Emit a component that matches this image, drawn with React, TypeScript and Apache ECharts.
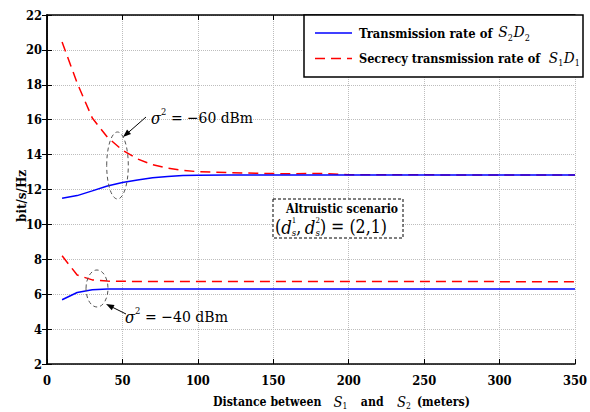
import React, { useEffect, useRef } from "react";
import * as echarts from "echarts";

const distances = [10, 20, 30, 40, 50, 60, 70, 80, 90, 100, 120, 140, 160, 180, 200, 250, 300, 350];
const rate60 = [11.5, 11.65, 11.92, 12.2, 12.4, 12.55, 12.67, 12.75, 12.8, 12.82, 12.83, 12.83, 12.83, 12.83, 12.83, 12.83, 12.83, 12.83];
const secrecy60 = [20.45, 18.1, 16.1, 15.0, 14.25, 13.75, 13.42, 13.22, 13.1, 13.02, 12.97, 12.93, 12.9, 12.92, 12.85, 12.84, 12.83, 12.83];
const rate40 = [5.68, 6.1, 6.25, 6.3, 6.3, 6.3, 6.3, 6.3, 6.3, 6.3, 6.3, 6.3, 6.3, 6.3, 6.3, 6.3, 6.3, 6.3];
const secrecy40 = [8.2, 7.1, 6.82, 6.75, 6.74, 6.73, 6.73, 6.73, 6.73, 6.73, 6.73, 6.73, 6.73, 6.73, 6.73, 6.73, 6.72, 6.72];

const FONT = "DejaVu Serif Condensed, DejaVu Serif";

type Run = { t: string; s?: number; it?: boolean; b?: boolean; dy?: number; gap?: number; noAdv?: boolean };

let ctx: CanvasRenderingContext2D | null = null;
function measure(t: string, size: number, it?: boolean, b?: boolean) {
  if (!ctx) ctx = document.createElement("canvas").getContext("2d");
  if (!ctx) return t.length * size * 0.55;
  ctx.font = `${it ? "italic " : ""}${b ? "bold " : ""}${size}px ${FONT}`;
  return ctx.measureText(t).width;
}

function textEl(t: string, x: number, y: number, size: number, it?: boolean, b?: boolean, extra: any = {}) {
  return {
    type: "text",
    x,
    y,
    z: 100,
    rotation: extra.rotation || 0,
    style: {
      text: t,
      fontFamily: FONT,
      fontSize: size,
      fontWeight: b ? "bold" : "normal",
      fontStyle: it ? "italic" : "normal",
      fill: "#000",
      align: extra.align || "left",
      verticalAlign: "middle",
    },
  };
}

// Lay out a sequence of text runs starting at x0, scaled so the whole line spans targetW.
function line(runs: Run[], x0: number, y: number, base: number, targetW: number, maxK = 1.3) {
  const widthAt = (sz: number) => {
    let w = 0;
    runs.forEach((r) => {
      const size = sz * (r.s || 1);
      w += (r.gap || 0) * sz;
      if (!r.noAdv) w += measure(r.t, size, r.it, r.b);
    });
    return w;
  };
  const k = Math.min(maxK, targetW / widthAt(base));
  const sz = base * k;
  const els: any[] = [];
  let x = x0;
  runs.forEach((r) => {
    const size = sz * (r.s || 1);
    x += (r.gap || 0) * sz;
    els.push(textEl(r.t, x, y + (r.dy || 0) * sz, size, r.it, r.b));
    if (!r.noAdv) x += measure(r.t, size, r.it, r.b);
  });
  return els;
}

function pairs(ys: number[]) {
  return distances.map((x, i) => [x, ys[i]]);
}

export default function App() {
  const ref = useRef<HTMLDivElement>(null);
  useEffect(() => {
    if (!ref.current) return;
    const chart = echarts.init(ref.current, null, { renderer: "svg" });

    const tickSize = Math.min(14, (14 * 16) / measure("22", 14, false, true));
    const axisLabel = { fontFamily: FONT, fontWeight: "bold", fontSize: tickSize, color: "#000" };
    const splitLine = { show: true, lineStyle: { color: "#bdbdbd", type: "dotted", width: 1 } };
    const axisLine = { show: true, lineStyle: { color: "#000", width: 1.5 } };
    const tick = { show: true, inside: true, length: 5, lineStyle: { color: "#000", width: 1 } };

    const blue = { color: "#0000ff", width: 1.5, type: "solid" };
    const red = { color: "#ff0000", width: 1.5, type: [10, 6] };

    const ySize = (14 * 52) / measure("bit/s/Hz", 14, false, true);

    const graphic: any[] = [
      {
        type: "rect",
        shape: { x: 304, y: 15, width: 279, height: 62 },
        style: { fill: "#fff", stroke: "#000", lineWidth: 1.5 },
        z: 90,
      },
      { type: "line", shape: { x1: 315, y1: 33, x2: 352, y2: 33 }, style: { stroke: "#0000ff", lineWidth: 1.5 }, z: 100 },
      { type: "line", shape: { x1: 315, y1: 58.5, x2: 352, y2: 58.5 }, style: { stroke: "#ff0000", lineWidth: 1.5, lineDash: [10, 6] }, z: 100 },
      ...line(
        [
          { t: "Transmission rate of", b: true },
          { t: "S", it: true, s: 1.2, gap: 0.45, dy: -0.05 },
          { t: "2", s: 0.7, dy: 0.35 },
          { t: "D", it: true, s: 1.2, gap: 0.05, dy: -0.05 },
          { t: "2", s: 0.7, dy: 0.35 },
        ],
        359, 33, 14, 171
      ),
      ...line(
        [
          { t: "Secrecy transmission rate of", b: true },
          { t: "S", it: true, s: 1.2, gap: 0.7, dy: -0.05 },
          { t: "1", s: 0.7, dy: 0.35 },
          { t: "D", it: true, s: 1.2, gap: 0.05, dy: -0.05 },
          { t: "1", s: 0.7, dy: 0.35 },
        ],
        359, 58.5, 14, 221
      ),

      {
        type: "rect",
        shape: { x: 273, y: 199, width: 130, height: 39 },
        style: { fill: "#fff", stroke: "#000", lineWidth: 1, lineDash: [3, 2] },
        z: 90,
      },
      ...line([{ t: "Altruistic scenario", b: true }], 286, 209, 14, 112),
      ...line(
        [
          { t: "(" },
          { t: "d", it: true, s: 1.05 },
          { t: "1", s: 0.45, dy: -0.38, noAdv: true },
          { t: "s", it: true, s: 0.55, dy: 0.32 },
          { t: "," },
          { t: "d", it: true, s: 1.05, gap: 0.2 },
          { t: "2", s: 0.45, dy: -0.38, noAdv: true },
          { t: "s", it: true, s: 0.55, dy: 0.32 },
          { t: ") = (2,1)" },
        ],
        275, 227, 16, 125, 1.1
      ),

      {
        type: "ellipse",
        shape: { cx: 117.5, cy: 165.5, rx: 10.8, ry: 33.5 },
        style: { fill: "none", stroke: "#555", lineWidth: 1, lineDash: [4, 3] },
        z: 95,
      },
      { type: "line", shape: { x1: 146, y1: 117, x2: 126, y2: 134.5 }, style: { stroke: "#000", lineWidth: 1 }, z: 100 },
      { type: "polygon", shape: { points: [[123, 137], [131, 134], [127.1, 129.5]] }, style: { fill: "#000" }, z: 100 },
      ...line(
        [
          { t: "σ", it: true, s: 1.05 },
          { t: "2", s: 0.6, dy: -0.4 },
          { t: "= −60 dBm", gap: 0.3 },
        ],
        151, 118, 17, 102
      ),

      {
        type: "ellipse",
        shape: { cx: 97, cy: 288.5, rx: 11, ry: 18.5 },
        style: { fill: "none", stroke: "#555", lineWidth: 1, lineDash: [4, 3] },
        z: 95,
      },
      { type: "line", shape: { x1: 126, y1: 314, x2: 109, y2: 305.5 }, style: { stroke: "#000", lineWidth: 1 }, z: 100 },
      { type: "polygon", shape: { points: [[106, 304], [114.5, 304.9], [111.8, 310.3]] }, style: { fill: "#000" }, z: 100 },
      ...line(
        [
          { t: "σ", it: true, s: 1.05 },
          { t: "2", s: 0.6, dy: -0.4 },
          { t: "= −40 dBm", gap: 0.3 },
        ],
        125, 317, 17, 103
      ),

      ...line(
        [
          { t: "Distance between", b: true },
          { t: "S", it: true, s: 1.2, gap: 1.0, dy: -0.05 },
          { t: "1", s: 0.7, dy: 0.35 },
          { t: "and", b: true, gap: 1.1 },
          { t: "S", it: true, s: 1.2, gap: 1.1, dy: -0.05 },
          { t: "2", s: 0.7, dy: 0.35 },
          { t: "(meters)", b: true, gap: 0.5 },
        ],
        213, 402, 14, 257
      ),

      textEl("bit/s/Hz", 21, 196, ySize, false, true, { align: "center", rotation: Math.PI / 2 }),
    ];

    chart.setOption({
      animation: false,
      textStyle: { fontFamily: FONT },
      grid: { left: 47, right: 7, top: 15, bottom: 48, containLabel: false },
      xAxis: [
        { type: "value", min: 0, max: 350, interval: 50, axisLine, axisTick: tick, axisLabel: { ...axisLabel, margin: 10 }, splitLine },
        { type: "value", position: "top", min: 0, max: 350, interval: 50, axisLine, axisTick: tick, axisLabel: { show: false }, splitLine: { show: false } },
      ],
      yAxis: [
        { type: "value", min: 2, max: 22, interval: 2, axisLine, axisTick: tick, axisLabel: { ...axisLabel, margin: 5 }, splitLine },
        { type: "value", position: "right", min: 2, max: 22, interval: 2, axisLine, axisTick: tick, axisLabel: { show: false }, splitLine: { show: false } },
      ],
      series: [
        { name: "rate60", type: "line", data: pairs(rate60), showSymbol: false, lineStyle: blue, z: 5 },
        { name: "secrecy60", type: "line", data: pairs(secrecy60), showSymbol: false, lineStyle: red, z: 4 },
        { name: "rate40", type: "line", data: pairs(rate40), showSymbol: false, lineStyle: blue, z: 5 },
        { name: "secrecy40", type: "line", data: pairs(secrecy40), showSymbol: false, lineStyle: red, z: 4 },
      ],
      graphic,
    });
    return () => chart.dispose();
  }, []);

  return (
    <div
      ref={ref}
      style={{ position: "fixed", left: 0, top: 0, width: 590, height: 412, background: "#fff" }}
    />
  );
}
